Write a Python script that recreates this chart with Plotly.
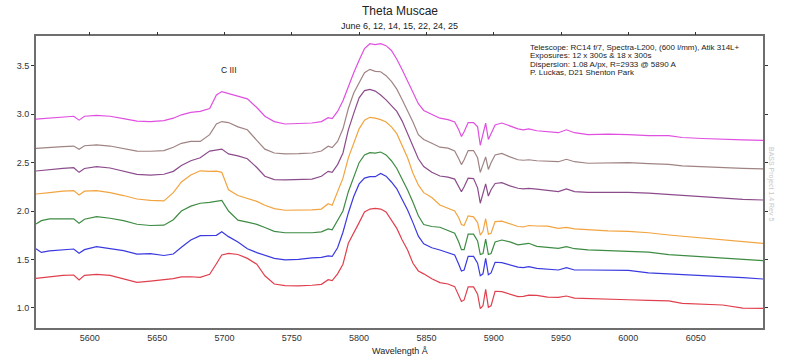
import plotly.graph_objects as go

wavelength = [5560, 5564, 5570, 5580, 5588, 5592, 5596, 5605, 5615, 5625, 5635, 5645, 5655, 5662, 5668, 5675,
              5682, 5689, 5694, 5698, 5703, 5710, 5717, 5724, 5730, 5737, 5745, 5755, 5765, 5772, 5777, 5780,
              5784, 5788, 5792, 5796, 5800, 5804, 5808, 5812, 5816, 5820, 5824, 5828, 5832, 5836, 5840, 5844,
              5848, 5854, 5860, 5866, 5871, 5874, 5876, 5878, 5881, 5885, 5888, 5890, 5892, 5894, 5896, 5898,
              5901, 5906, 5912, 5918, 5922, 5926, 5932, 5940, 5948, 5954, 5960, 5970, 5985, 6000, 6015, 6030,
              6040, 6055, 6070, 6085, 6100]

flux_magenta = [2.95, 2.955, 2.96, 2.975, 2.98, 2.94, 2.98, 2.99, 2.98, 2.955, 2.93, 2.925, 2.935, 2.96, 2.995, 3.02,
                3.03, 3.06, 3.20, 3.235, 3.215, 3.195, 3.16, 3.07, 2.98, 2.925, 2.90, 2.905, 2.91, 2.925, 2.965, 2.955,
                3.03, 3.14, 3.29, 3.43, 3.56, 3.68, 3.73, 3.72, 3.73, 3.71, 3.66, 3.57, 3.46, 3.34, 3.22, 3.11,
                3.04, 3.00, 2.96, 2.945, 2.92, 2.84, 2.77, 2.82, 2.915, 2.915, 2.87, 2.68, 2.80, 2.91, 2.74, 2.80,
                2.89, 2.91, 2.88, 2.85, 2.84, 2.85, 2.83, 2.82, 2.81, 2.84, 2.81, 2.79, 2.795, 2.79, 2.78, 2.78,
                2.76, 2.75, 2.74, 2.735, 2.73]

flux_brown = [2.648, 2.65, 2.655, 2.665, 2.672, 2.638, 2.675, 2.683, 2.672, 2.645, 2.62, 2.618, 2.625, 2.66, 2.70, 2.72,
              2.72, 2.79, 2.90, 2.925, 2.915, 2.87, 2.84, 2.73, 2.64, 2.60, 2.59, 2.593, 2.60, 2.62, 2.67, 2.656,
              2.72, 2.85, 3.06, 3.22, 3.33, 3.43, 3.465, 3.445, 3.44, 3.40, 3.34, 3.26, 3.15, 3.04, 2.92, 2.79,
              2.74, 2.70, 2.66, 2.65, 2.62, 2.54, 2.48, 2.53, 2.625, 2.625, 2.55, 2.40, 2.48, 2.56, 2.43, 2.50,
              2.58, 2.595, 2.56, 2.53, 2.525, 2.53, 2.52, 2.515, 2.51, 2.535, 2.51, 2.494, 2.50, 2.50, 2.49, 2.483,
              2.466, 2.455, 2.448, 2.44, 2.435]

flux_purple = [2.414, 2.42, 2.43, 2.44, 2.448, 2.40, 2.44, 2.458, 2.445, 2.41, 2.379, 2.372, 2.38, 2.41, 2.47, 2.52,
               2.55, 2.62, 2.63, 2.64, 2.59, 2.57, 2.54, 2.45, 2.36, 2.325, 2.321, 2.322, 2.33, 2.36, 2.41, 2.40,
               2.48, 2.60, 2.84, 3.01, 3.17, 3.245, 3.258, 3.24, 3.20, 3.15, 3.09, 3.03, 2.93, 2.80, 2.68, 2.54,
               2.46, 2.40, 2.362, 2.35, 2.33, 2.26, 2.20, 2.25, 2.34, 2.335, 2.24, 2.08, 2.18, 2.28, 2.155, 2.22,
               2.285, 2.293, 2.26, 2.235, 2.228, 2.235, 2.226, 2.215, 2.20, 2.228, 2.20, 2.193, 2.193, 2.193, 2.185, 2.172,
               2.158, 2.145, 2.131, 2.12, 2.114]

flux_orange = [2.176, 2.18, 2.19, 2.205, 2.211, 2.166, 2.205, 2.211, 2.19, 2.16, 2.124, 2.11, 2.104, 2.19, 2.30, 2.372,
               2.416, 2.41, 2.412, 2.40, 2.22, 2.16, 2.13, 2.10, 2.06, 2.025, 2.008, 2.008, 2.012, 2.02, 2.075, 2.06,
               2.20, 2.34, 2.55, 2.70, 2.85, 2.94, 2.969, 2.96, 2.945, 2.92, 2.87, 2.80, 2.67, 2.55, 2.39, 2.27,
               2.19, 2.14, 2.062, 2.03, 2.00, 1.93, 1.86, 1.85, 1.95, 1.94, 1.88, 1.75, 1.79, 1.92, 1.76, 1.77,
               1.89, 1.895, 1.87, 1.84, 1.835, 1.85, 1.845, 1.843, 1.82, 1.831, 1.815, 1.804, 1.795, 1.79, 1.775, 1.752,
               1.74, 1.72, 1.705, 1.685, 1.666]

flux_green = [1.866, 1.90, 1.918, 1.918, 1.92, 1.873, 1.915, 1.942, 1.925, 1.90, 1.863, 1.85, 1.853, 1.91, 2.00, 2.05,
              2.08, 2.09, 2.10, 2.11, 2.00, 1.905, 1.885, 1.862, 1.83, 1.79, 1.775, 1.772, 1.775, 1.785, 1.815, 1.806,
              1.90, 2.00, 2.20, 2.36, 2.50, 2.58, 2.604, 2.598, 2.61, 2.58, 2.52, 2.44, 2.33, 2.217, 2.09, 1.95,
              1.86, 1.84, 1.832, 1.80, 1.77, 1.68, 1.60, 1.60, 1.76, 1.76, 1.69, 1.55, 1.56, 1.71, 1.55, 1.56,
              1.68, 1.70, 1.68, 1.65, 1.655, 1.666, 1.635, 1.625, 1.614, 1.631, 1.61, 1.597, 1.59, 1.583, 1.575, 1.548,
              1.54, 1.525, 1.51, 1.498, 1.487]

flux_blue = [1.61, 1.572, 1.587, 1.60, 1.607, 1.563, 1.60, 1.631, 1.61, 1.59, 1.555, 1.56, 1.54, 1.555, 1.625, 1.70,
             1.745, 1.75, 1.748, 1.786, 1.735, 1.68, 1.61, 1.57, 1.545, 1.51, 1.495, 1.50, 1.515, 1.52, 1.535, 1.53,
             1.62, 1.78, 1.98, 2.15, 2.28, 2.34, 2.355, 2.355, 2.389, 2.36, 2.30, 2.23, 2.12, 2.01, 1.88, 1.74,
             1.66, 1.62, 1.597, 1.57, 1.545, 1.45, 1.38, 1.39, 1.53, 1.53, 1.46, 1.33, 1.35, 1.51, 1.34, 1.36,
             1.47, 1.466, 1.44, 1.42, 1.415, 1.425, 1.407, 1.40, 1.39, 1.414, 1.39, 1.39, 1.39, 1.385, 1.36, 1.348,
             1.338, 1.33, 1.321, 1.31, 1.297]

flux_red = [1.304, 1.31, 1.32, 1.335, 1.338, 1.286, 1.335, 1.345, 1.335, 1.30, 1.262, 1.275, 1.286, 1.30, 1.318, 1.32,
            1.314, 1.345, 1.455, 1.545, 1.562, 1.55, 1.51, 1.45, 1.33, 1.245, 1.228, 1.225, 1.232, 1.242, 1.29, 1.28,
            1.35, 1.45, 1.666, 1.78, 1.88, 1.99, 2.02, 2.027, 2.02, 1.99, 1.91, 1.82, 1.70, 1.596, 1.46, 1.38,
            1.35, 1.30, 1.259, 1.245, 1.218, 1.13, 1.065, 1.08, 1.215, 1.215, 1.14, 0.99, 1.02, 1.19, 1.005, 1.02,
            1.17, 1.166, 1.14, 1.115, 1.118, 1.13, 1.128, 1.11, 1.107, 1.121, 1.10, 1.097, 1.09, 1.082, 1.075, 1.07,
            1.045, 1.036, 1.028, 0.995, 0.994]

series = [
    ("June 6", flux_magenta, "#e050e0"),
    ("June 12", flux_brown, "#a08484"),
    ("June 14", flux_purple, "#8c4c8c"),
    ("June 15", flux_orange, "#f2a440"),
    ("June 22", flux_green, "#3e8c44"),
    ("June 24", flux_blue, "#3a3ae0"),
    ("June 25", flux_red, "#e0404e"),
]

x_ticks = [5600, 5650, 5700, 5750, 5800, 5850, 5900, 5950, 6000, 6050]
y_ticks = [1.0, 1.5, 2.0, 2.5, 3.0, 3.5]

fig = go.Figure()
for name, vals, col in series:
    fig.add_trace(go.Scatter(x=wavelength, y=vals, mode="lines", name=name,
                             line=dict(color=col, width=1.2), showlegend=False))
# invisible trace to carry the top tick axis
fig.add_trace(go.Scatter(x=[5560, 6100], y=[None, None], xaxis="x2", mode="lines",
                         showlegend=False, hoverinfo="skip"))

FONT = "Liberation Sans, Arial, sans-serif"
axis_col = "#6e6e6e"

fig.update_layout(
    width=800, height=364,
    margin=dict(l=36, r=37, t=36, b=36),
    paper_bgcolor="white", plot_bgcolor="white",
    font=dict(family=FONT, size=9, color="#333333"),
    xaxis=dict(range=[5560, 6100], tickvals=x_ticks, ticktext=[str(v) for v in x_ticks],
               ticks="", showgrid=False, zeroline=False, showline=True, linecolor=axis_col,
               linewidth=2, mirror=True, tickfont=dict(size=9, color="#333333")),
    xaxis2=dict(range=[5560, 6100], overlaying="x", side="top", tickvals=x_ticks,
                showticklabels=False, ticks="outside", ticklen=3, tickcolor="#333333",
                showgrid=False, zeroline=False, showline=False),
    yaxis=dict(range=[0.79, 3.81], tickvals=y_ticks, ticktext=[f"{v:.1f}" for v in y_ticks],
               ticks="outside", ticklen=3, tickcolor="#333333", showgrid=False, zeroline=False,
               showline=True, linecolor=axis_col, linewidth=2, mirror="ticks",
               tickfont=dict(size=9, color="#333333")),
)

ann = []
ann.append(dict(text="Theta Muscae", x=0.5, y=1.086, xref="paper", yref="paper",
                showarrow=False, font=dict(size=12, color="#222222"), yanchor="middle"))
ann.append(dict(text="June 6, 12, 14, 15, 22, 24, 25", x=0.5, y=1.034, xref="paper", yref="paper",
                showarrow=False, font=dict(size=9, color="#222222"), yanchor="middle"))
ann.append(dict(text="Wavelength Å", x=0.5, y=-0.08, xref="paper", yref="paper",
                showarrow=False, font=dict(size=9, color="#222222"), yanchor="middle"))
info_lines = [
    "Telescope: RC14 f/7, Spectra-L200, (600 l/mm), Atik 314L+",
    "Exposures: 12 x 300s & 18 x 300s",
    "Dispersion: 1.08 A/px, R=2933 @ 5890 A",
    "P. Luckas, D21 Shenton Park",
]
info_y = [47, 55.5, 64, 72.5]
for t, ypx in zip(info_lines, info_y):
    ann.append(dict(text=t, x=(528 - 36) / 727, y=(328 - ypx) / 292, xref="paper", yref="paper",
                    xanchor="left", yanchor="middle", showarrow=False,
                    font=dict(size=8, color="#222222")))
ann.append(dict(text="C III", x=5703, y=3.455, xref="x", yref="y", showarrow=False,
                font=dict(size=8.5, color="#222222"), yanchor="middle"))
ann.append(dict(text="BASS Project 1.4 Rev 5", x=(771 - 36) / 727, y=(328 - 184) / 292,
                xref="paper", yref="paper", textangle=90, showarrow=False,
                font=dict(size=7, color="#c8c8c8"), yanchor="middle", xanchor="center"))
fig.update_layout(annotations=ann)

# remove the browser's default 8px page margin so the figure sits at the window origin
fig.write_html("out.html",
               config={"displayModeBar": False},
               post_script="document.body.style.margin='0';document.body.style.padding='0';")
